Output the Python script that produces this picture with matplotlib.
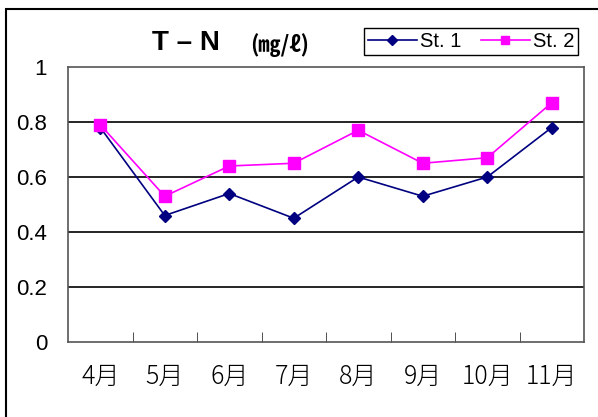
import matplotlib
matplotlib.use("Agg")
import matplotlib.pyplot as plt
from matplotlib.patches import Rectangle

plt.rcParams['font.family'] = ['Noto Sans CJK JP', 'DejaVu Sans']

months = ['4月', '5月', '6月', '7月', '8月', '9月', '10月', '11月']
st1 = [0.78, 0.46, 0.54, 0.45, 0.60, 0.53, 0.60, 0.78]
st2 = [0.79, 0.53, 0.64, 0.65, 0.77, 0.65, 0.67, 0.87]
yticks = [0, 0.2, 0.4, 0.6, 0.8, 1]
ytick_labels = ['0', '0.2', '0.4', '0.6', '0.8', '1']

W, H = 598, 417
fig = plt.figure(figsize=(W/100, H/100), dpi=100)
ax = fig.add_axes([68/W, 1-342/H, (584-68)/W, (342-67)/H])

x = list(range(len(months)))
l1, = ax.plot(x, st1, color='#000080', marker='D', markersize=6.5, lw=1.2, label='St. 1')
l2, = ax.plot(x, st2, color='#FF00FF', marker='s', markersize=8.5, lw=1.2, label='St. 2')

ax.set_xlim(-0.5, len(months)-0.5)
ax.set_ylim(0, 1)
ax.set_yticks(yticks)
ax.set_yticklabels(ytick_labels, fontsize=16, family=['Liberation Sans'])
ax.set_xticks(x)
ax.set_xticklabels(months, fontsize=18, fontweight=300)
ax.tick_params(axis='x', length=0, pad=15)
ax.tick_params(axis='y', length=0, pad=15)
ax.set_xticks([i+0.5 for i in range(len(months)-1)], minor=True)
ax.tick_params(axis='x', which='minor', direction='in', length=7, color='#333333')
for yv in [0.2, 0.4, 0.6, 0.8]:
    ax.axhline(yv, color='black', lw=1.2, zorder=0)
for s in ax.spines.values():
    s.set_color('#555555')
    s.set_linewidth(1.2)

fig.text(186/W, 1-43/H, 'T – N', fontsize=20, fontweight='bold', ha='center', va='center',
         family=['Liberation Sans'])
fig.text(280/W, 1-45/H, '(㎎/ℓ)', fontsize=16, fontweight='bold', ha='center', va='center')

fig.legend(handles=[l1, l2], loc='upper right', bbox_to_anchor=(588/W, 1-18/H), ncol=2,
           frameon=True, fancybox=False, edgecolor='black', framealpha=1,
           handlelength=2.4, handletextpad=0.15, columnspacing=1.0, borderpad=0.2,
           markerscale=0.75, prop={'family': ['Liberation Sans'], 'size': 14.5})

fig.patches.append(Rectangle((6/W, -0.1), 1.2, 1-9/H+0.1, transform=fig.transFigure,
                             fill=False, edgecolor='black', lw=1.5, clip_on=False))

fig.savefig('out.png', dpi=100)
